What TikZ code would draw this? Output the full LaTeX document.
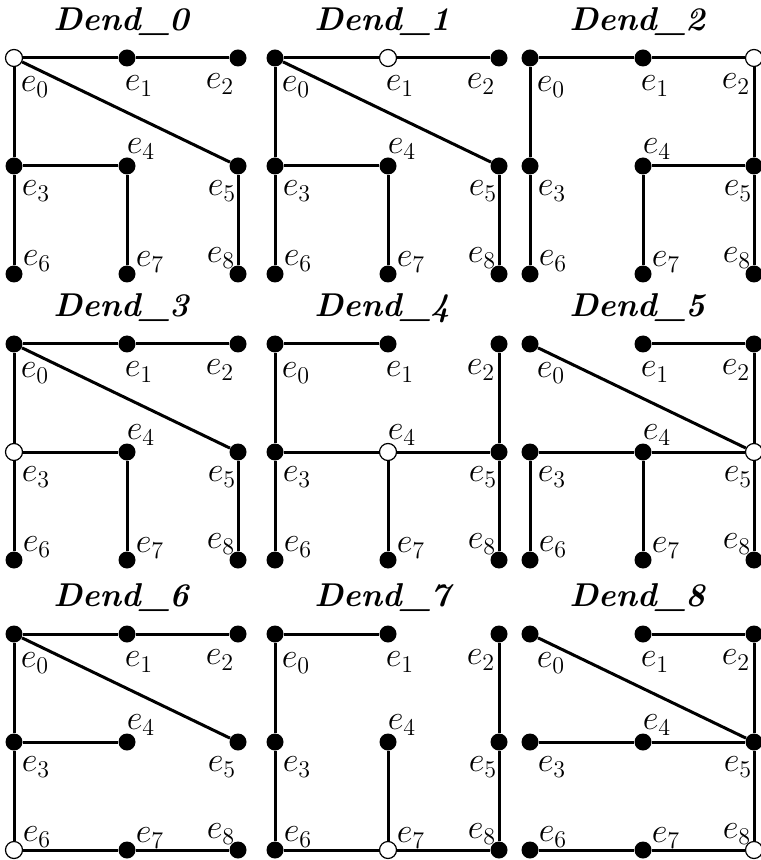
\documentclass[tikz,border=0pt]{standalone}
\usepackage{tikz}

% one panel: number, x, y, open node, edge list
\newcommand{\dendpanel}[5]{%
  \begin{scope}[shift={(#2,#3)}]
    \node[paneltitle] (t#1) at (107,-36) {Dend\_#1};
    \foreach \i/\x/\y/\lx/\ly in {0/0/0/21/29, 1/113/0/12/28, 2/224/0/-18/26,
        3/0/108/22/25, 4/113/108/14/-17, 5/224/108/-16/25,
        6/0/216/23/-13, 7/113/216/23/-12, 8/224/216/-17/-16}{
      \node[dot] (n#1\i) at (\x,\y) {};
      \node[elbl] (l#1\i) at (\x+\lx,\y+\ly) {$e_{\i}$};
    }
    \node[hollow] (n#1#4) at (n#1#4) {};
    \foreach \a/\b in {#5}
      \draw[edge] (n#1\a) -- (n#1\b);
  \end{scope}
}

\begin{document}
\begin{tikzpicture}[
    x=0.5pt, y=-0.5pt,
    dot/.style={circle, fill=black, inner sep=0pt, minimum size=8.5pt},
    hollow/.style={circle, draw=black, fill=white, line width=0.6pt,
                   inner sep=0pt, minimum size=8.5pt},
    edge/.style={line width=1.5pt},
    elbl/.style={inner sep=0pt, font=\fontsize{17.28}{19}\selectfont},
    paneltitle/.style={inner sep=0pt, font=\fontsize{16.5}{19}\selectfont\bfseries\itshape}
]
  \useasboundingbox (0,0) rectangle (760,860);

  \dendpanel{0}{14}{58}{0}{0/1,1/2,0/5,0/3,3/4,3/6,4/7,5/8}
  \dendpanel{1}{275}{58}{1}{0/1,1/2,0/5,0/3,3/4,3/6,4/7,5/8}
  \dendpanel{2}{530}{58}{2}{0/1,1/2,0/3,3/6,2/5,4/5,4/7,5/8}

  \dendpanel{3}{14}{344}{3}{0/1,1/2,0/5,0/3,3/4,3/6,4/7,5/8}
  \dendpanel{4}{275}{344}{4}{0/1,0/3,2/5,3/4,4/5,3/6,4/7,5/8}
  \dendpanel{5}{530}{344}{5}{0/5,1/2,2/5,3/4,4/5,3/6,4/7,5/8}

  \dendpanel{6}{14}{634}{6}{0/1,1/2,0/5,0/3,3/4,3/6,6/7,7/8}
  \dendpanel{7}{275}{634}{7}{0/1,0/3,3/6,6/7,7/8,4/7,2/5,5/8}
  \dendpanel{8}{530}{634}{8}{0/5,1/2,2/5,3/4,4/5,5/8,6/7,7/8}
\end{tikzpicture}
\end{document}
